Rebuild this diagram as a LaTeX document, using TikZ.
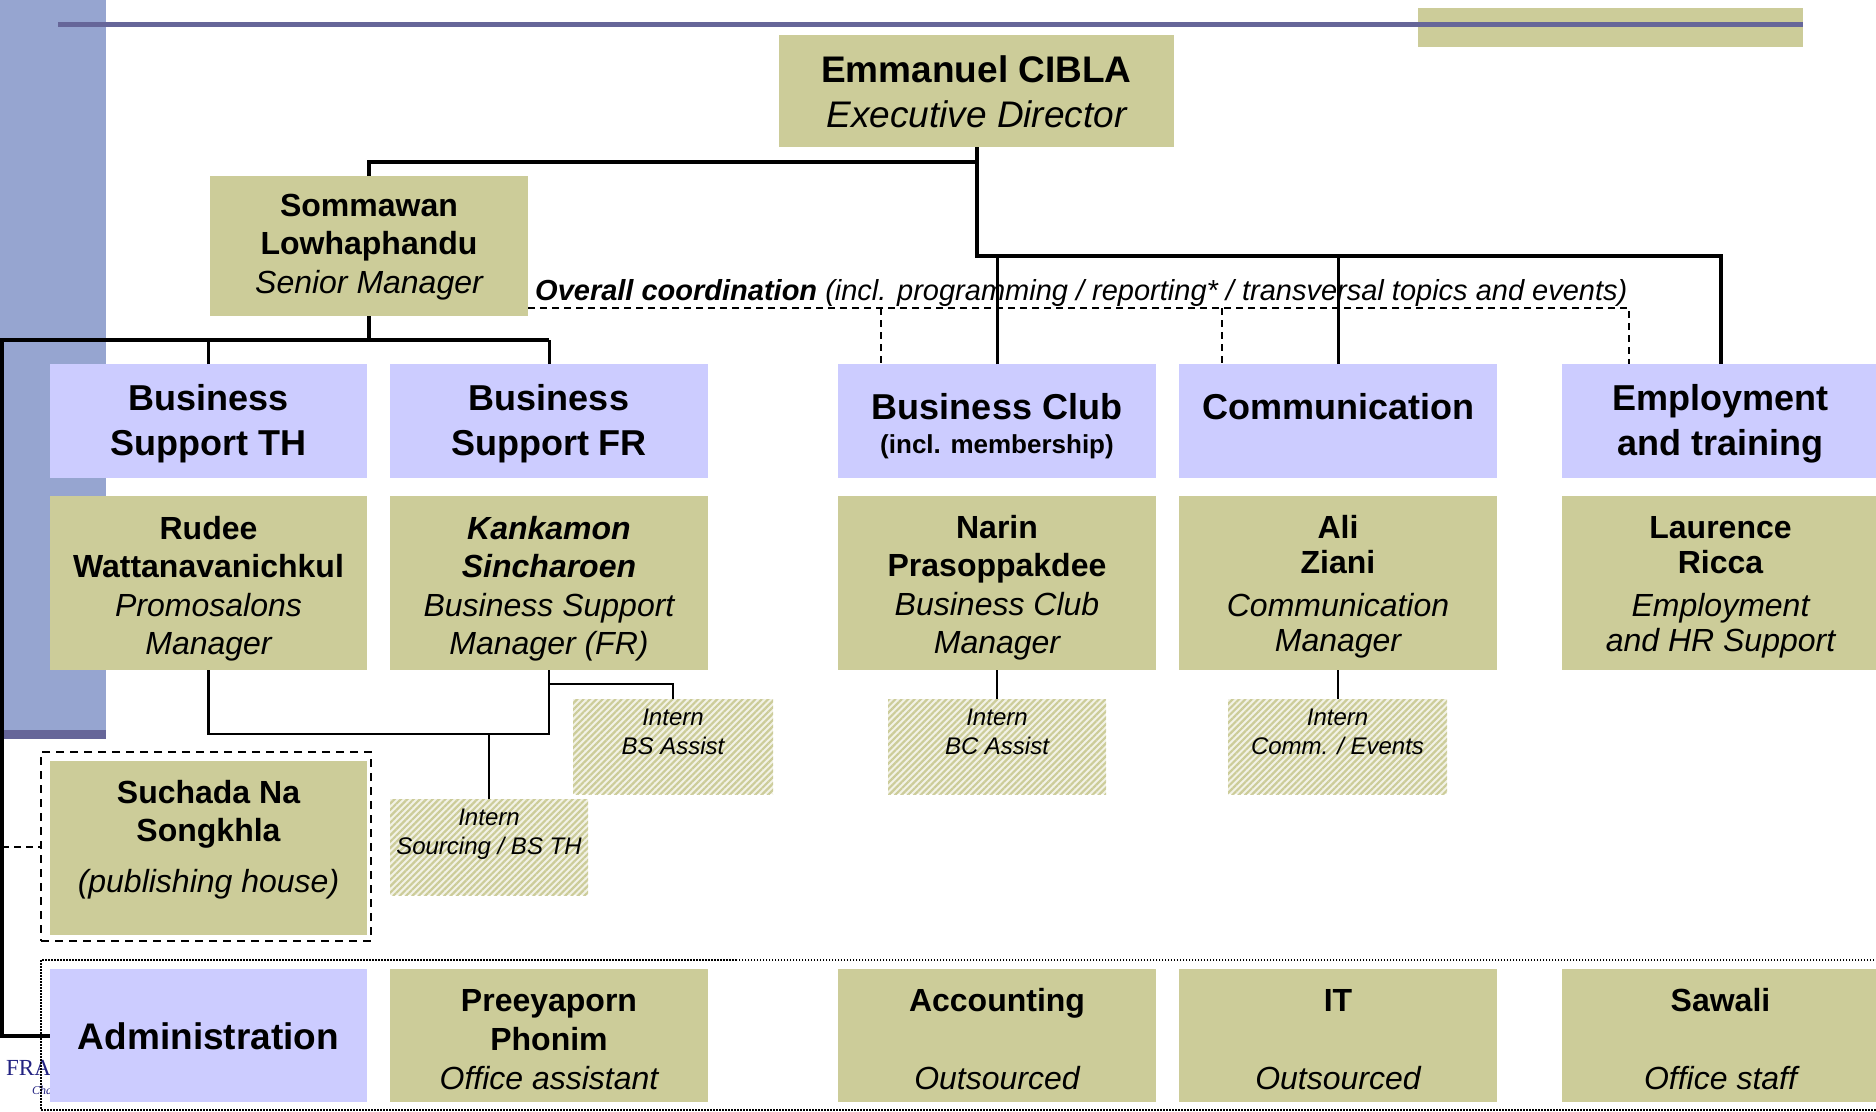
\documentclass[tikz,border=0pt]{standalone}
\usepackage{fontspec}
\setmainfont{Liberation Sans}
\newfontfamily\logofont{Liberation Serif}
\usetikzlibrary{patterns.meta}
\definecolor{khaki}{RGB}{204,204,153}
\definecolor{lav}{RGB}{204,204,255}
\definecolor{barblue}{RGB}{150,165,208}
\definecolor{slate}{RGB}{102,102,153}
\definecolor{logoblue}{RGB}{35,35,130}
\newcommand{\mlines}[1]{\begin{tabular}[t]{@{}c@{}}#1\end{tabular}}
\newcommand{\fsz}[2]{\fontsize{#1}{#2}\selectfont}
\begin{document}
\begin{tikzpicture}[x=1pt,y=-1pt,
  box/.style={inner sep=0pt, outer sep=0pt, anchor=north west, draw=none},
  kbox/.style={box, fill=khaki},
  bbox/.style={box, fill=lav},
  ibox/.style={box, preaction={fill=khaki!25}, pattern={Lines[angle=45,distance=4.5pt,line width=2.2pt]}, pattern color=khaki},
  txt/.style={anchor=base, inner sep=0pt, outer sep=0pt},
  heavy/.style={line width=4pt, black},
  mid/.style={line width=3pt, black},
  light/.style={line width=2pt, black},
  hair/.style={line width=1.6pt, black},
  dashline/.style={line width=2pt, black, dash pattern=on 7pt off 5pt},
]
\useasboundingbox (0,0) rectangle (1876,1111);
\fill[white] (0,0) rectangle (1876,1111);
% slide background decoration
\fill[barblue] (0,0) rectangle (106,730);
\fill[slate] (0,730) rectangle (106,739);
\fill[khaki] (1418,8) rectangle (1803,47);
\draw[slate, line width=4.5pt] (58,24.5) -- (1803,24.5);
% partially hidden logo
\node[anchor=base west, inner sep=0pt, font=\logofont\fsz{23}{27}, text=logoblue] (logo) at (6,1075) {FRANCO};
\node[anchor=base west, inner sep=0pt, font=\logofont\itshape\fsz{12}{14}, text=logoblue] (logo2) at (32,1094) {Chamber};
% frames
\node[box, draw, line width=1.5pt, dash pattern=on 1.5pt off 1.5pt, minimum width=1860pt, minimum height=150pt] (adminf) at (41,960) {};
\node[box, draw, line width=2.5pt, dash pattern=on 8pt off 6pt, minimum width=330pt, minimum height=189pt] (suchf) at (41,752) {};
% boxes
\node[kbox, minimum width=395pt, minimum height=112pt] (emm) at (779,35) {};
\node[kbox, minimum width=318pt, minimum height=140pt] (somm) at (210,176) {};
\node[bbox, minimum width=317pt, minimum height=114pt] (bsth) at (50,364) {};
\node[bbox, minimum width=318pt, minimum height=114pt] (bsfr) at (390,364) {};
\node[bbox, minimum width=318pt, minimum height=114pt] (bc) at (838,364) {};
\node[bbox, minimum width=318pt, minimum height=114pt] (comm) at (1179,364) {};
\node[bbox, minimum width=317pt, minimum height=114pt] (emp) at (1562,364) {};
\node[kbox, minimum width=317pt, minimum height=174pt] (rudee) at (50,496) {};
\node[kbox, minimum width=318pt, minimum height=174pt] (kank) at (390,496) {};
\node[kbox, minimum width=318pt, minimum height=174pt] (narin) at (838,496) {};
\node[kbox, minimum width=318pt, minimum height=174pt] (ali) at (1179,496) {};
\node[kbox, minimum width=317pt, minimum height=174pt] (laur) at (1562,496) {};
\node[ibox, minimum width=200pt, minimum height=95pt] (ibsa) at (573,699) {};
\node[ibox, minimum width=198pt, minimum height=96pt] (isrc) at (390,799) {};
\node[ibox, minimum width=218pt, minimum height=95pt] (ibc) at (888,699) {};
\node[ibox, minimum width=219pt, minimum height=95pt] (icom) at (1228,699) {};
\node[kbox, minimum width=317pt, minimum height=174pt] (such) at (50,761) {};
\node[bbox, minimum width=317pt, minimum height=133pt] (admin) at (50,969) {};
\node[kbox, minimum width=318pt, minimum height=133pt] (pree) at (390,969) {};
\node[kbox, minimum width=318pt, minimum height=133pt] (acc) at (838,969) {};
\node[kbox, minimum width=318pt, minimum height=133pt] (it) at (1179,969) {};
\node[kbox, minimum width=317pt, minimum height=133pt] (saw) at (1562,969) {};
% connectors
\coordinate (jr) at (976.5,256);
\coordinate (hl) at (2,340);
\coordinate (jb) at (0,734);
\coordinate (dl) at (0,308);
\coordinate (d1) at (881,308);
\coordinate (d2) at (1222,308);
\coordinate (d3) at (1629,308);
\draw[heavy] (emm.south) -- ++(0,15) -| (somm.north);
\draw[heavy] (emm.south) -- (jr) -| (emp.north);
\draw[mid] (bc.north) -- (bc.north |- jr);
\draw[mid] (comm.north) -- (comm.north |- jr);
\draw[heavy] (somm.south) -- (somm.south |- hl);
\draw[heavy] (bsfr.north |- hl) -- (hl) |- (admin.west);
\draw[mid] (bsth.north) -- (bsth.north |- hl);
\draw[mid] (bsfr.north) -- (bsfr.north |- hl);
\draw[light, line width=2.5pt] (rudee.south) |- (kank.south |- jb) -- (kank.south);
\draw[light] (isrc.north) -- (isrc.north |- jb);
\draw[hair] ([yshift=-14pt]kank.south) -| (ibsa.north);
\draw[hair] (narin.south) -- (narin.south |- ibc.north);
\draw[hair] (ali.south) -- (ali.south |- icom.north);
\draw[dashline] (somm.north east |- dl) -- (d3) -- (d3 |- emp.north);
\draw[dashline] (d1) -- (d1 |- bc.north);
\draw[dashline] (d2) -- (d2 |- comm.north);
\draw[dashline] (hl |- suchf.west) -- (suchf.west);
% texts
\node[txt, font=\fsz{37}{45}] (t-emm) at (emm.center |- 0,82) {\mlines{\bfseries Emmanuel CIBLA\\ \itshape Executive Director}};
\node[txt, font=\fsz{32}{38.5}] (t-somm) at (somm.center |- 0,216) {\mlines{\bfseries Sommawan\\ \bfseries Lowhaphandu\\ \itshape Senior Manager}};
\node[anchor=base west, inner sep=0pt, font=\fsz{29}{35}] (t-overall) at (535,300) {\textbf{\textit{Overall coordination}} \textit{(incl. programming / reporting* / transversal topics and events)}};
\node[txt, font=\fsz{36}{45}] (t-bsth) at (bsth.center |- 0,410) {\mlines{\bfseries Business\\ \bfseries Support TH}};
\node[txt, font=\fsz{36}{45}] (t-bsfr) at (bsfr.center |- 0,410) {\mlines{\bfseries Business\\ \bfseries Support FR}};
\node[txt, font=\fsz{36}{34}] (t-bc) at (bc.center |- 0,419) {\mlines{\bfseries Business Club\\ \fsz{26}{30}\bfseries (incl. membership)}};
\node[txt, font=\fsz{36}{45}\bfseries] (t-comm) at (comm.center |- 0,419) {Communication};
\node[txt, font=\fsz{36}{45}] (t-emp) at (emp.center |- 0,410) {\mlines{\bfseries Employment\\ \bfseries and training}};
\node[txt, font=\fsz{32}{38.5}] (t-rudee) at (rudee.center |- 0,539) {\mlines{\bfseries Rudee\\ \bfseries Wattanavanichkul\\ \itshape Promosalons\\ \itshape Manager}};
\node[txt, font=\fsz{32}{38.5}] (t-kank) at (kank.center |- 0,539) {\mlines{\bfseries\itshape Kankamon\\ \bfseries\itshape Sincharoen\\ \itshape Business Support\\ \itshape Manager (FR)}};
\node[txt, font=\fsz{32}{38.5}] (t-narin) at (narin.center |- 0,538) {\mlines{\bfseries Narin\\ \bfseries Prasoppakdee\\ \itshape Business Club\\ \itshape Manager}};
\node[txt, font=\fsz{32}{35}] (t-ali) at (ali.center |- 0,538) {\mlines{\bfseries Ali\\ \bfseries Ziani\\[8pt] \itshape Communication\\ \itshape Manager}};
\node[txt, font=\fsz{32}{35}] (t-laur) at (laur.center |- 0,538) {\mlines{\bfseries Laurence\\ \bfseries Ricca\\[8pt] \itshape Employment\\ \itshape and HR Support}};
\node[txt, font=\fsz{24}{29}] (t-ibsa) at (ibsa.center |- 0,725) {\mlines{\itshape Intern\\ \itshape BS Assist}};
\node[txt, font=\fsz{24}{29}] (t-isrc) at (isrc.center |- 0,825) {\mlines{\itshape Intern\\ \itshape Sourcing / BS TH}};
\node[txt, font=\fsz{24}{29}] (t-ibc) at (ibc.center |- 0,725) {\mlines{\itshape Intern\\ \itshape BC Assist}};
\node[txt, font=\fsz{24}{29}] (t-icom) at (icom.center |- 0,725) {\mlines{\itshape Intern\\ \itshape Comm. / Events}};
\node[txt, font=\fsz{32}{38}] (t-such) at (such.center |- 0,803) {\mlines{\bfseries Suchada Na\\ \bfseries Songkhla\\[13pt] \itshape (publishing house)}};
\node[txt, font=\fsz{37}{45}\bfseries] (t-admin) at (admin.center |- 0,1049) {Administration};
\node[txt, font=\fsz{32}{39}] (t-pree) at (pree.center |- 0,1011) {\mlines{\bfseries Preeyaporn\\ \bfseries Phonim\\ \itshape Office assistant}};
\node[txt, font=\fsz{32}{38}] (t-acc) at (acc.center |- 0,1011) {\mlines{\bfseries Accounting\\[40pt] \itshape Outsourced}};
\node[txt, font=\fsz{32}{38}] (t-it) at (it.center |- 0,1011) {\mlines{\bfseries IT\\[40pt] \itshape Outsourced}};
\node[txt, font=\fsz{32}{38}] (t-saw) at (saw.center |- 0,1011) {\mlines{\bfseries Sawali\\[40pt] \itshape Office staff}};
\end{tikzpicture}
\end{document}
